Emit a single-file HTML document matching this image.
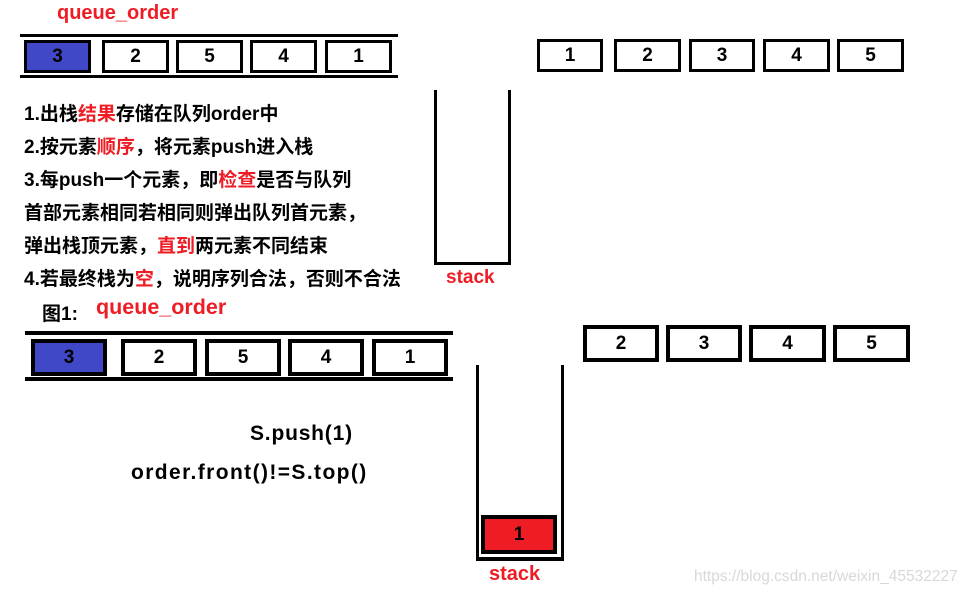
<!DOCTYPE html>
<html><head><meta charset="utf-8"><style>
body{margin:0;width:975px;height:596px;background:#fff;position:relative;overflow:hidden;font-family:"Liberation Sans","Noto Sans CJK SC",sans-serif;font-weight:bold}
.a{position:absolute;white-space:nowrap}
.b{position:absolute;box-sizing:border-box;border:3px solid #000;background:#fff;display:flex;align-items:center;justify-content:center;font-size:19px;color:#000}
.l{position:absolute;background:#000}
.r{color:#ee1c24}
.t{position:absolute;left:24px;font-size:19px;white-space:nowrap;line-height:22px}
</style></head><body>
<div class="a r" style="left:57px;top:2px;font-size:20px">queue_order</div>
<div class="l" style="left:20px;top:34px;width:378px;height:3px"></div>
<div class="l" style="left:20px;top:75px;width:378px;height:3px"></div>
<div class="b" style="left:24px;top:40px;width:67px;height:33px;background:#4048c8">3</div>
<div class="b" style="left:102px;top:40px;width:67px;height:33px">2</div>
<div class="b" style="left:176px;top:40px;width:67px;height:33px">5</div>
<div class="b" style="left:250px;top:40px;width:67px;height:33px">4</div>
<div class="b" style="left:325px;top:40px;width:67px;height:33px">1</div>

<div class="b" style="left:537px;top:39px;width:66px;height:33px">1</div>
<div class="b" style="left:614px;top:39px;width:67px;height:33px">2</div>
<div class="b" style="left:689px;top:39px;width:66px;height:33px">3</div>
<div class="b" style="left:763px;top:39px;width:67px;height:33px">4</div>
<div class="b" style="left:837px;top:39px;width:67px;height:33px">5</div>

<div class="t" style="top:104px">1.出栈<span class="r">结果</span>存储在队列order中</div>
<div class="t" style="top:137px">2.按元素<span class="r">顺序</span>，将元素push进入栈</div>
<div class="t" style="top:170px">3.每push一个元素，即<span class="r">检查</span>是否与队列</div>
<div class="t" style="top:203px">首部元素相同若相同则弹出队列首元素，</div>
<div class="t" style="top:236px">弹出栈顶元素，<span class="r">直到</span>两元素不同结束</div>
<div class="t" style="top:269px">4.若最终栈为<span class="r">空</span>，说明序列合法，否则不合法</div>

<div class="l" style="left:434px;top:90px;width:3px;height:175px"></div>
<div class="l" style="left:508px;top:90px;width:3px;height:175px"></div>
<div class="l" style="left:434px;top:262px;width:77px;height:3px"></div>
<div class="a r" style="left:446px;top:267px;font-size:19px">stack</div>

<div class="a" style="left:42px;top:299px;font-size:19px">图1:</div>
<div class="a r" style="left:96px;top:295px;font-size:21.5px">queue_order</div>
<div class="l" style="left:25px;top:331px;width:428px;height:4px"></div>
<div class="l" style="left:25px;top:377px;width:428px;height:4px"></div>
<div class="b" style="left:31px;top:339px;width:76px;height:37px;background:#4048c8;border-width:4px">3</div>
<div class="b" style="left:121px;top:339px;width:76px;height:37px;border-width:4px">2</div>
<div class="b" style="left:205px;top:339px;width:76px;height:37px;border-width:4px">5</div>
<div class="b" style="left:288px;top:339px;width:76px;height:37px;border-width:4px">4</div>
<div class="b" style="left:372px;top:339px;width:76px;height:37px;border-width:4px">1</div>

<div class="b" style="left:583px;top:325px;width:76px;height:37px;border-width:4px">2</div>
<div class="b" style="left:666px;top:325px;width:76px;height:37px;border-width:4px">3</div>
<div class="b" style="left:749px;top:325px;width:77px;height:37px;border-width:4px">4</div>
<div class="b" style="left:833px;top:325px;width:77px;height:37px;border-width:4px">5</div>

<div class="a" style="left:250px;top:422px;font-size:21px;letter-spacing:0.8px">S.push(1)</div>
<div class="a" style="left:131px;top:461px;font-size:21px;letter-spacing:1.4px">order.front()!=S.top()</div>

<div class="l" style="left:476px;top:365px;width:3px;height:196px"></div>
<div class="l" style="left:561px;top:365px;width:3px;height:196px"></div>
<div class="l" style="left:476px;top:557px;width:88px;height:4px"></div>
<div class="b" style="left:481px;top:515px;width:76px;height:39px;background:#ee1c24;border-width:4px">1</div>
<div class="a r" style="left:489px;top:563px;font-size:20px">stack</div>

<div class="a" style="left:694px;top:568px;font-size:15.5px;font-weight:normal;color:#d8d8d8">https://blog.csdn.net/weixin_45532227</div>
</body></html>
